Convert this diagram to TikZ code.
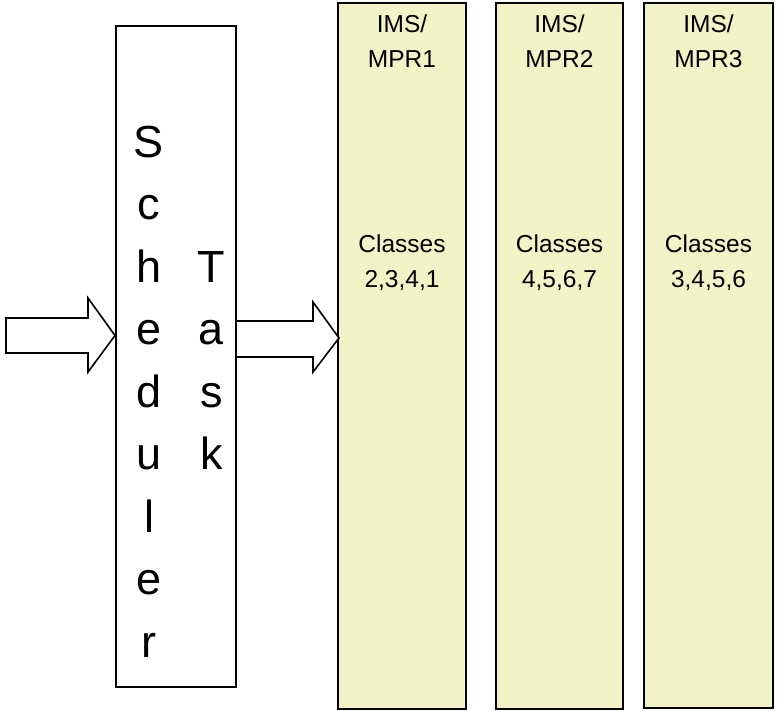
\documentclass[tikz,border=0pt]{standalone}
\usepackage{fontspec}
\setmainfont{Liberation Sans}
\definecolor{pale}{RGB}{242,244,200}
\begin{document}
\begin{tikzpicture}[x=1pt,y=-1pt,
  box/.style={draw=black, line width=1.6pt, inner sep=0pt, outer sep=0pt},
  membox/.style={box, fill=pale},
  big/.style={font=\fontsize{45}{54}\selectfont, anchor=base, inner sep=0pt},
  small/.style={font=\fontsize{24.5}{35}\selectfont, anchor=base, inner sep=0pt},
  blockarrow/.style={draw=black, line width=1.6pt, fill=white, line join=miter}]
\useasboundingbox (0,0) rectangle (778,710);
% boxes
\node[box, minimum width=120pt, minimum height=661pt] (sched) at (176,356.5) {};
\node[membox, minimum width=128pt, minimum height=706pt] (mpr1) at (402,356) {};
\node[membox, minimum width=127pt, minimum height=706pt] (mpr2) at (559.5,356) {};
\node[membox, minimum width=129pt, minimum height=705pt] (mpr3) at (708.5,355.5) {};
% block arrows
\draw[blockarrow] (6,318) -- (88,318) -- (88,298) -- (115,335.5) -- (88,372) -- (88,353) -- (6,353) -- cycle;
\draw[blockarrow] (236,321) -- (313,321) -- (313,302) -- (339,338) -- (313,372) -- (313,357) -- (236,357) -- cycle;
% Scheduler letters
\foreach \l/\y [count=\i] in {S/157,c/219,h/282,e/344,d/407,u/469,l/532,e/594,r/657}
  \node[big] (s\i) at (149,\y) {\l};
\foreach \l/\y [count=\i] in {T/282,a/344,s/407,k/469}
  \node[big] (t\i) at (211.5,\y) {\l};
% MPR labels
\node[small] (m1a) at (402,32) {IMS/};
\node[small] (m1b) at (402,67) {MPR1};
\node[small] (m2a) at (559.5,32) {IMS/};
\node[small] (m2b) at (559.5,67) {MPR2};
\node[small] (m3a) at (708.5,32) {IMS/};
\node[small] (m3b) at (708.5,67) {MPR3};
\node[small] (c1a) at (402,252) {Classes};
\node[small] (c1b) at (402,287) {2,3,4,1};
\node[small] (c2a) at (559.5,252) {Classes};
\node[small] (c2b) at (559.5,287) {4,5,6,7};
\node[small] (c3a) at (708.5,252) {Classes};
\node[small] (c3b) at (708.5,287) {3,4,5,6};
\end{tikzpicture}
\end{document}
